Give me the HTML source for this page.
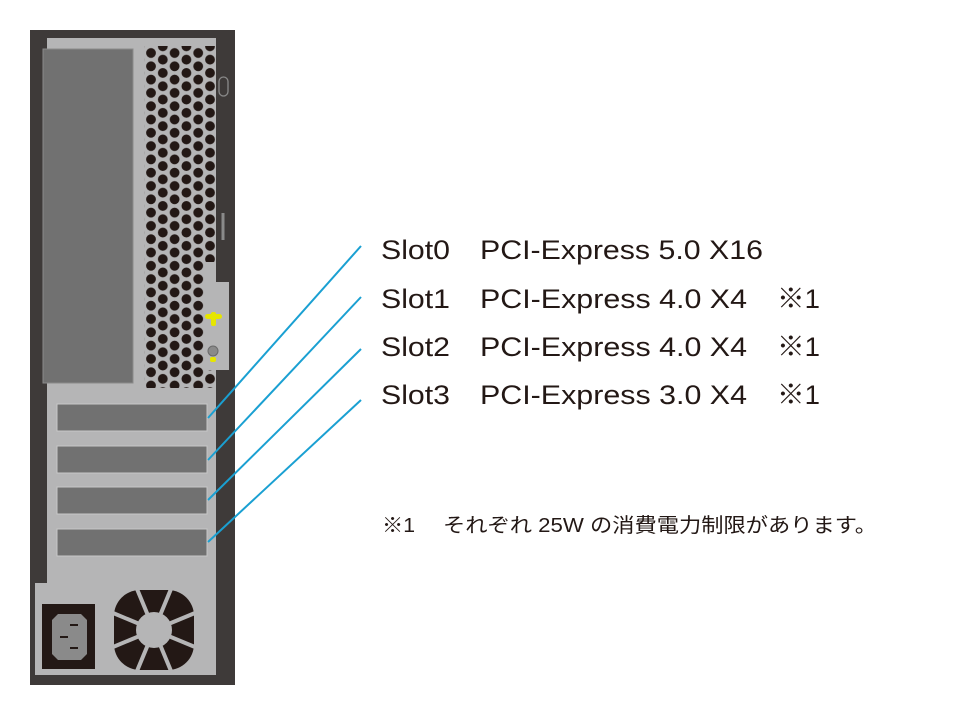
<!DOCTYPE html>
<html><head><meta charset="utf-8"><style>
html,body{margin:0;padding:0;background:#fff;}
svg{display:block}
text{font-family:"Liberation Sans","Noto Sans CJK JP",sans-serif;fill:#231815}
</style></head><body>
<svg width="960" height="719" viewBox="0 0 960 719" xmlns="http://www.w3.org/2000/svg">
<defs>
<pattern id="holes" patternUnits="userSpaceOnUse" x="145.1" y="46.35" width="23.6" height="13.3">
<circle cx="5.9" cy="6.65" r="4.9" fill="#231815"/>
<circle cx="17.7" cy="0" r="4.9" fill="#231815"/>
<circle cx="17.7" cy="13.3" r="4.9" fill="#231815"/>
</pattern>
</defs>
<rect x="30" y="30" width="205" height="655" fill="#3e3a39"/>
<polygon points="47,38 216,38 216,282 229,282 229,370 216,370 216,675 35,675 35,583 47,583" fill="#b5b5b6"/>
<rect x="43" y="49" width="90" height="334" fill="#717171" stroke="#8a8a8a" stroke-width="1"/>
<rect x="144" y="46" width="61" height="342" fill="url(#holes)"/>
<rect x="205" y="46" width="11" height="216" fill="url(#holes)"/>
<rect x="205" y="370" width="11" height="18" fill="url(#holes)"/>
<rect x="219" y="77" width="9" height="19" rx="4.5" fill="none" stroke="#8a8a8a" stroke-width="1.3"/>
<rect x="221.5" y="213" width="3" height="27" fill="#8a8a8a"/>
<rect x="205" y="314" width="17" height="5" rx="2.5" fill="#e6e600"/>
<rect x="211" y="312" width="5" height="14" rx="2" fill="#e6e600"/>
<circle cx="213" cy="351" r="5" fill="#8a8a8a" stroke="#6a6a6a"/>
<rect x="210" y="357" width="6" height="5" rx="2" fill="#e6e600"/>
<g fill="#717171" stroke="#c8c8c8" stroke-width="1">
<rect x="57" y="404" width="150" height="27"/>
<rect x="57" y="446" width="150" height="27"/>
<rect x="57" y="487" width="150" height="27"/>
<rect x="57" y="529" width="150" height="27"/>
</g>
<rect x="42" y="604" width="53" height="65" fill="#231815"/>
<path d="M58,614 H81 L87,620 V654 L81,660 H58 L52,654 V620 Z" fill="#8a8a8a"/>
<rect x="70" y="624" width="8" height="2" fill="#231815"/>
<rect x="60" y="636" width="8" height="2" fill="#231815"/>
<rect x="70" y="647" width="8" height="2" fill="#231815"/>
<rect x="114" y="590" width="80" height="80" rx="26" fill="#231815"/>
<g stroke="#b5b5b6" stroke-width="4">
<line x1="154" y1="630" x2="154" y2="585" transform="rotate(22.5 154 630)"/>
<line x1="154" y1="630" x2="154" y2="585" transform="rotate(67.5 154 630)"/>
<line x1="154" y1="630" x2="154" y2="585" transform="rotate(112.5 154 630)"/>
<line x1="154" y1="630" x2="154" y2="585" transform="rotate(157.5 154 630)"/>
<line x1="154" y1="630" x2="154" y2="585" transform="rotate(202.5 154 630)"/>
<line x1="154" y1="630" x2="154" y2="585" transform="rotate(247.5 154 630)"/>
<line x1="154" y1="630" x2="154" y2="585" transform="rotate(292.5 154 630)"/>
<line x1="154" y1="630" x2="154" y2="585" transform="rotate(337.5 154 630)"/>
</g>
<circle cx="154" cy="630" r="18" fill="#b5b5b6"/>
<g stroke="#1aa0d2" stroke-width="2">
<line x1="208" y1="418" x2="361" y2="246"/>
<line x1="208" y1="460" x2="361" y2="297"/>
<line x1="208" y1="500" x2="361" y2="349"/>
<line x1="208" y1="542" x2="361" y2="400"/>
</g>
<g font-size="27">
<text x="381" y="259" textLength="69" lengthAdjust="spacingAndGlyphs">Slot0</text>
<text x="480" y="259" textLength="283" lengthAdjust="spacingAndGlyphs">PCI-Express 5.0 X16</text>
<text x="381" y="308" textLength="69" lengthAdjust="spacingAndGlyphs">Slot1</text>
<text x="480" y="308" textLength="267" lengthAdjust="spacingAndGlyphs">PCI-Express 4.0 X4</text>
<text x="777" y="308" textLength="43" lengthAdjust="spacingAndGlyphs">※1</text>
<text x="381" y="356" textLength="69" lengthAdjust="spacingAndGlyphs">Slot2</text>
<text x="480" y="356" textLength="267" lengthAdjust="spacingAndGlyphs">PCI-Express 4.0 X4</text>
<text x="777" y="356" textLength="43" lengthAdjust="spacingAndGlyphs">※1</text>
<text x="381" y="404" textLength="69" lengthAdjust="spacingAndGlyphs">Slot3</text>
<text x="480" y="404" textLength="267" lengthAdjust="spacingAndGlyphs">PCI-Express 3.0 X4</text>
<text x="777" y="404" textLength="43" lengthAdjust="spacingAndGlyphs">※1</text>
</g>
<g font-size="20">
<text x="382" y="532" textLength="33" lengthAdjust="spacingAndGlyphs">※1</text>
<text x="443" y="532" textLength="434" lengthAdjust="spacingAndGlyphs">それぞれ 25W の消費電力制限があります。</text>
</g>
</svg>
</body></html>
